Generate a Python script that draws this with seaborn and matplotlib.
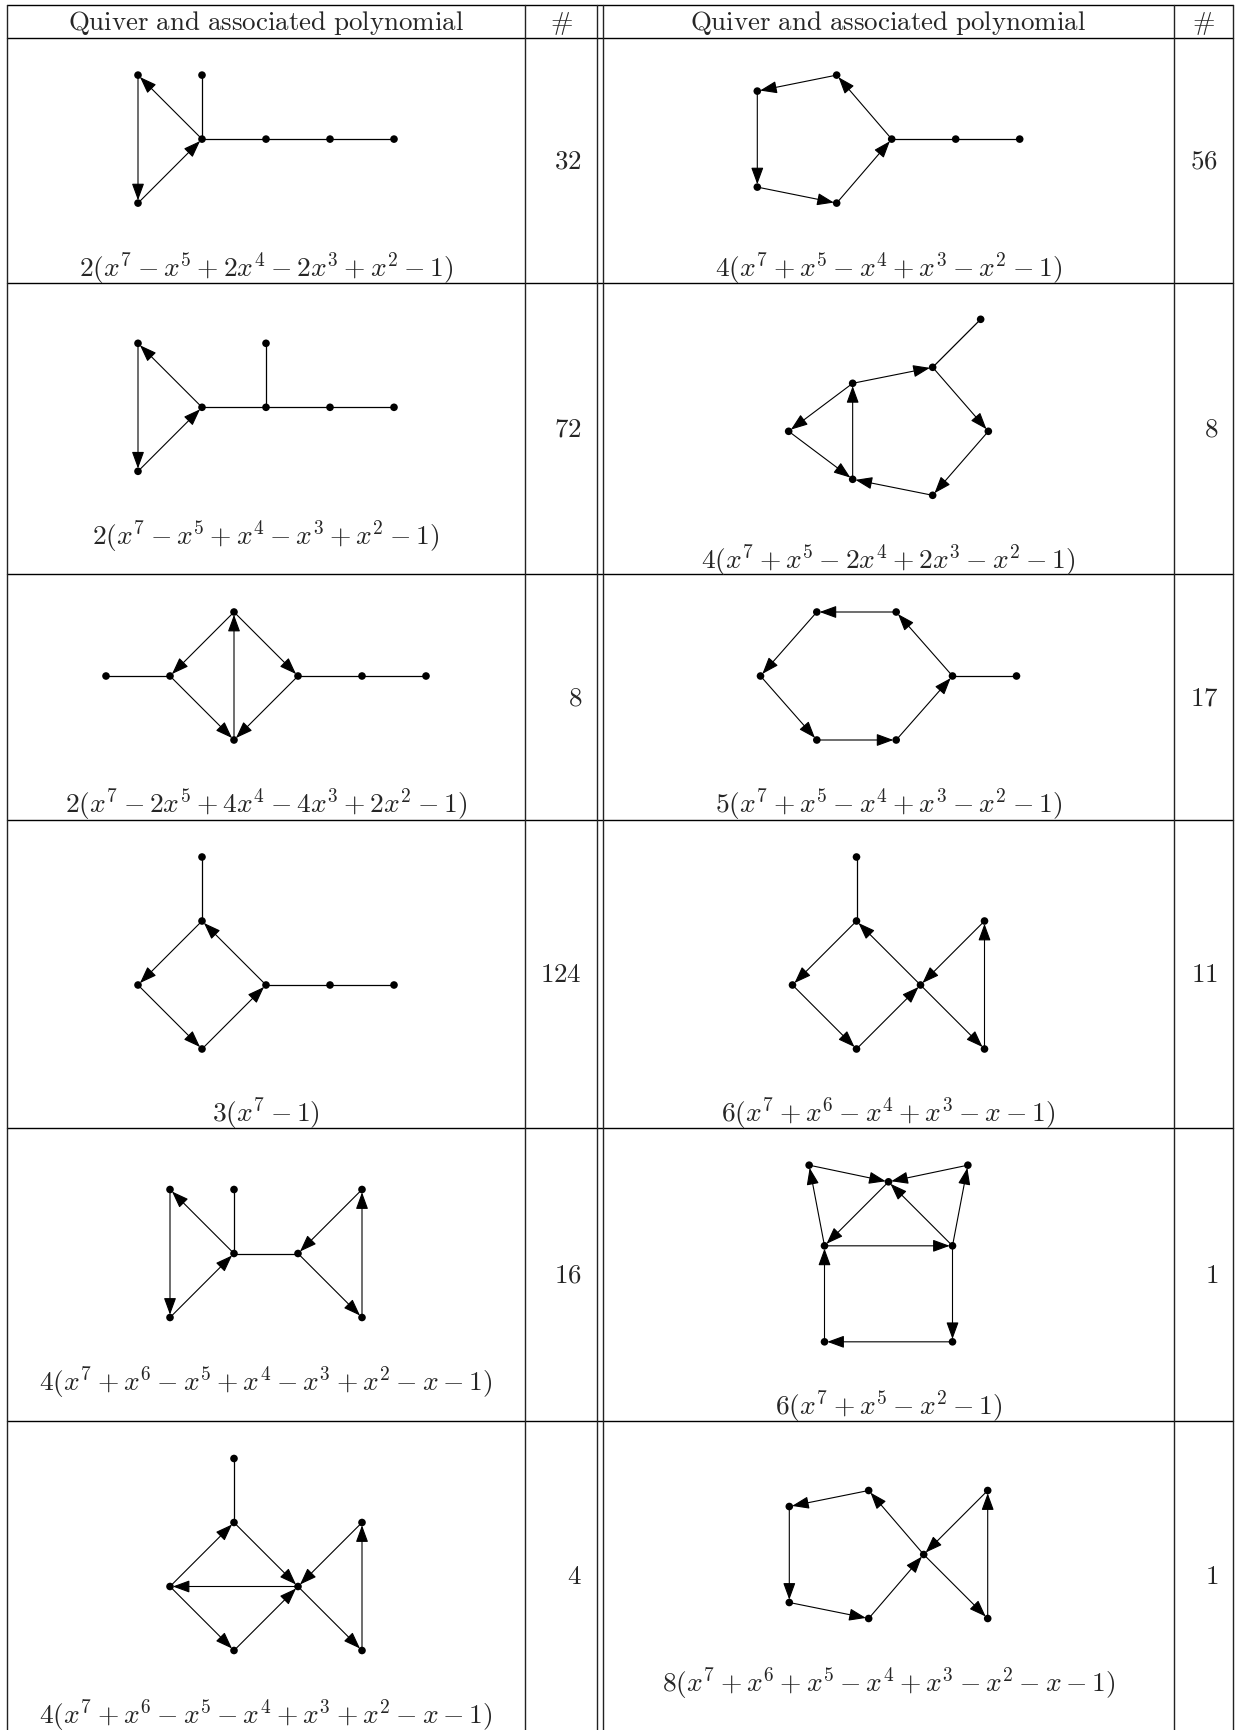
import numpy as np
import pandas as pd
import seaborn as sns
import matplotlib.pyplot as plt

sns.set_theme(style='white')
plt.rcParams['mathtext.fontset'] = 'cm'
plt.rcParams['font.family'] = ['DejaVu Serif']

# quivers, row by row (left cell then right cell)
# node positions in grid units, edges as (from, to) node indices
q1_nodes = [(-1, 1), (0, 1), (0, 0), (1, 0), (2, 0), (3, 0), (-1, -1)]
q1_arrows = [(2, 0), (0, 6), (6, 2)]
q1_lines = [(1, 2), (2, 3), (3, 4), (4, 5)]

q2_nodes = [(0, 0), (-0.86, 1), (-2.1, 0.75), (-2.1, -0.75), (-0.86, -1), (1, 0), (2, 0)]
q2_arrows = [(0, 1), (1, 2), (2, 3), (3, 4), (4, 0)]
q2_lines = [(0, 5), (5, 6)]

q3_nodes = [(-1, 1), (-1, -1), (0, 0), (1, 0), (1, 1), (2, 0), (3, 0)]
q3_arrows = [(2, 0), (0, 1), (1, 2)]
q3_lines = [(2, 3), (3, 4), (3, 5), (5, 6)]

q4_nodes = [(0, 0), (1, 0.75), (1, -0.75), (2.25, 1), (3.12, 0), (2.25, -1), (3.0, 1.75)]
q4_arrows = [(1, 3), (3, 4), (4, 5), (5, 2), (2, 1), (1, 0), (0, 2)]
q4_lines = [(3, 6)]

q5_nodes = [(-1, 0), (0, 0), (1, 1), (1, -1), (2, 0), (3, 0), (4, 0)]
q5_arrows = [(2, 1), (1, 3), (3, 2), (2, 4), (4, 3)]
q5_lines = [(0, 1), (4, 5), (5, 6)]

q6_nodes = [(0, 0), (0.88, 1), (2.12, 1), (3, 0), (4, 0), (0.88, -1), (2.12, -1)]
q6_arrows = [(3, 2), (2, 1), (1, 0), (0, 5), (5, 6), (6, 3)]
q6_lines = [(3, 4)]

q7_nodes = [(1, 2), (1, 1), (0, 0), (1, -1), (2, 0), (3, 0), (4, 0)]
q7_arrows = [(1, 2), (2, 3), (3, 4), (4, 1)]
q7_lines = [(0, 1), (4, 5), (5, 6)]

q8_nodes = [(1, 2), (1, 1), (0, 0), (1, -1), (2, 0), (3, 1), (3, -1)]
q8_arrows = [(1, 2), (2, 3), (3, 4), (4, 1), (5, 4), (4, 6), (6, 5)]
q8_lines = [(0, 1)]

q9_nodes = [(-1, 1), (0, 1), (0, 0), (1, 0), (2, 1), (2, -1), (-1, -1)]
q9_arrows = [(2, 0), (0, 6), (6, 2), (4, 3), (3, 5), (5, 4)]
q9_lines = [(1, 2), (2, 3)]

q10_nodes = [(-0.24, 1.26), (1, 1), (2.24, 1.26), (0, 0), (2, 0), (0, -1.5), (2, -1.5)]
q10_arrows = [(3, 0), (0, 1), (2, 1), (4, 2), (1, 3), (4, 1), (3, 4), (4, 6), (6, 5), (5, 3)]
q10_lines = []

q11_nodes = [(1, 2), (1, 1), (0, 0), (1, -1), (2, 0), (3, 1), (3, -1)]
q11_arrows = [(2, 1), (1, 4), (4, 2), (2, 3), (3, 4), (5, 4), (4, 6), (6, 5)]
q11_lines = [(0, 1)]

q12_nodes = [(0, 0), (-0.86, 1), (-2.1, 0.75), (-2.1, -0.75), (-0.86, -1), (1, 1), (1, -1)]
q12_arrows = [(0, 1), (1, 2), (2, 3), (3, 4), (4, 0), (5, 0), (0, 6), (6, 5)]
q12_lines = []

polys = [
    r'2(x^7 - x^5 + 2x^4 - 2x^3 + x^2 - 1)',
    r'4(x^7 + x^5 - x^4 + x^3 - x^2 - 1)',
    r'2(x^7 - x^5 + x^4 - x^3 + x^2 - 1)',
    r'4(x^7 + x^5 - 2x^4 + 2x^3 - x^2 - 1)',
    r'2(x^7 - 2x^5 + 4x^4 - 4x^3 + 2x^2 - 1)',
    r'5(x^7 + x^5 - x^4 + x^3 - x^2 - 1)',
    r'3(x^7 - 1)',
    r'6(x^7 + x^6 - x^4 + x^3 - x - 1)',
    r'4(x^7 + x^6 - x^5 + x^4 - x^3 + x^2 - x - 1)',
    r'6(x^7 + x^5 - x^2 - 1)',
    r'4(x^7 + x^6 - x^5 - x^4 + x^3 + x^2 - x - 1)',
    r'8(x^7 + x^6 + x^5 - x^4 + x^3 - x^2 - x - 1)',
]
counts = [32, 56, 72, 8, 8, 17, 124, 11, 16, 1, 4, 1]

quivers = [
    (q1_nodes, q1_arrows, q1_lines), (q2_nodes, q2_arrows, q2_lines),
    (q3_nodes, q3_arrows, q3_lines), (q4_nodes, q4_arrows, q4_lines),
    (q5_nodes, q5_arrows, q5_lines), (q6_nodes, q6_arrows, q6_lines),
    (q7_nodes, q7_arrows, q7_lines), (q8_nodes, q8_arrows, q8_lines),
    (q9_nodes, q9_arrows, q9_lines), (q10_nodes, q10_arrows, q10_lines),
    (q11_nodes, q11_arrows, q11_lines), (q12_nodes, q12_arrows, q12_lines),
]

# layout (pixels)
W, H = 1237, 1731
UNIT = 64
FS = 19.4
FS_POLY = 19.8
top_y = 5.5
row_edges = [38.6, 283.6, 575, 821, 1129, 1422, H]
vlines = [7, 525, 597, 603, 1174, 1233]
col_x = [266, 888.5]
hash_x = [561, 1203.5]
num_x = [582, 1218]

fig = plt.figure(figsize=(W / 100, H / 100), dpi=100)
ax = fig.add_axes([0, 0, 1, 1])

# table rules
for y in [top_y] + row_edges[:-1]:
    ax.plot([vlines[0], vlines[-1]], [y, y], color='black', lw=1.0)
for x in vlines:
    ax.plot([x, x], [top_y, H], color='#222222', lw=1.0)

# header
for c in range(2):
    ax.text(col_x[c], (top_y + row_edges[0]) / 2 + 1, r'$\mathrm{Quiver\ and\ associated\ polynomial}$',
            ha='center', va='center', fontsize=FS)
    ax.text(hash_x[c], (top_y + row_edges[0]) / 2 + 1, r'$\#$', ha='center', va='center', fontsize=FS)

node_rows = []
for i, (nodes, arrows, lines) in enumerate(quivers):
    r, c = divmod(i, 2)
    pts = np.array(nodes, float)
    mx = (pts[:, 0].min() + pts[:, 0].max()) / 2
    my = (pts[:, 1].min() + pts[:, 1].max()) / 2
    row_mid = (row_edges[r] + row_edges[r + 1]) / 2
    px = col_x[c] + (pts[:, 0] - mx) * UNIT
    py = row_mid - 21 - (pts[:, 1] - my) * UNIT

    for a, b in lines:
        ax.plot([px[a], px[b]], [py[a], py[b]], color='black', lw=0.9, zorder=2)
    for a, b in arrows:
        ax.annotate('', xy=(px[b], py[b]), xytext=(px[a], py[a]),
                    arrowprops=dict(arrowstyle='-|>,head_length=0.52,head_width=0.19',
                                    mutation_scale=20, color='black', lw=0.8,
                                    shrinkA=0, shrinkB=2), zorder=2)
    for x, y in zip(px, py):
        node_rows.append({'x': x, 'y': y})

    ax.text(col_x[c], py.max() + 64, f'${polys[i]}$', ha='center', va='center', fontsize=FS_POLY)
    ax.text(num_x[c], row_mid, f'${counts[i]}$', ha='right', va='center', fontsize=FS)

node_df = pd.DataFrame(node_rows)
sns.scatterplot(data=node_df, x='x', y='y', color='black', s=30, edgecolor='none',
                legend=False, ax=ax, zorder=3)
ax.set_xlim(0, W)
ax.set_ylim(H, 0)
ax.axis('off')

fig.savefig('out.png', dpi=100, facecolor='white')
